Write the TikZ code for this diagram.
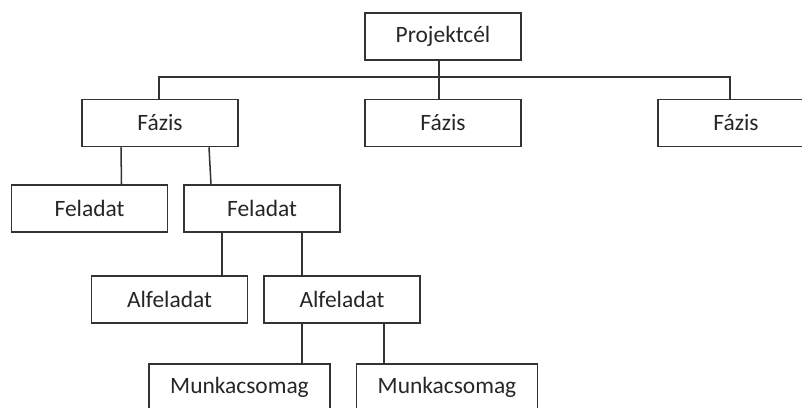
\documentclass[tikz,border=0pt]{standalone}
\usepackage{fontspec}
\setmainfont{Carlito}
\usepackage{xcolor}
\definecolor{lineclr}{HTML}{333333}
\definecolor{textclr}{HTML}{262626}

\tikzset{
  box/.style={draw=lineclr, line width=1.3pt, text=textclr, inner sep=0pt,
    minimum width=4.68cm, minimum height=1.41cm, font=\fontsize{20}{24}\selectfont},
  widebox/.style={box, minimum width=5.43cm},
  link/.style={draw=lineclr, line width=1.3pt}
}

\begin{document}
\begin{tikzpicture}[x=0.03cm,y=-0.03cm]
\useasboundingbox (0,0) rectangle (802,407);
\clip (0,0) rectangle (802,407);

\node[box] (proj) at (443,36.5){Projektcél};

\node[box] (fazisA) at (160,123){Fázis};
\node[box] (fazisB) at (443,123){Fázis};
\node[box] (fazisC) at (736,123){Fázis};

\node[box] (feladatA) at (89.5,208.5){Feladat};
\node[box] (feladatB) at (262,208.5){Feladat};

\node[box] (alfA) at (169.5,299.5){Alfeladat};
\node[box] (alfB) at (342,299.5){Alfeladat};

\node[widebox] (munkaA) at (239.5,387.5){Munkacsomag};
\node[widebox] (munkaB) at (447,387.5){Munkacsomag};

% top level
\coordinate (bar) at (0,77);
\draw[link] ([xshift=-0.12cm]proj.south) -- ([xshift=-0.12cm]fazisB.north);
\draw[link] ([xshift=-0.03cm]fazisA.north) -- ([xshift=-0.03cm]fazisA.north |- bar)
  -- ([xshift=-0.18cm]fazisC.north |- bar) -- ([xshift=-0.18cm]fazisC.north);

% Fázis -> Feladat
\draw[link] ([xshift=-1.17cm]fazisA.south) -- ([xshift=0.96cm]feladatA.north);
\draw[link] ([xshift=1.47cm]fazisA.south) -- ([xshift=-1.53cm]feladatB.north);

% Feladat -> Alfeladat
\draw[link] ([xshift=-1.2cm]feladatB.south) -- ([xshift=1.575cm]alfA.north);
\draw[link] ([xshift=1.2cm]feladatB.south) -- ([xshift=-1.2cm]alfB.north);

% Alfeladat -> Munkacsomag
\draw[link] ([xshift=-1.2cm]alfB.south) -- ([xshift=1.875cm]munkaA.north);
\draw[link] ([xshift=1.26cm]alfB.south) -- ([xshift=-1.89cm]munkaB.north);
\end{tikzpicture}
\end{document}
